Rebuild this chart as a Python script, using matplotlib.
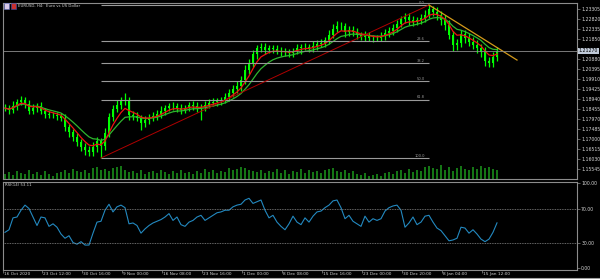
import numpy as np
import pandas as pd
import matplotlib
matplotlib.use("Agg")
import matplotlib.pyplot as plt
from matplotlib.transforms import blended_transform_factory
from matplotlib.patches import Rectangle
from matplotlib.lines import Line2D

# EURUSD H4, one entry per ~3 H4 bars
closes = [1.1850, 1.1841, 1.1860, 1.1880, 1.1889, 1.1870, 1.1836, 1.1850, 1.1860, 1.1836, 1.1821, 1.1817,
          1.1817, 1.1812, 1.1802, 1.1758, 1.1734, 1.1710, 1.1686, 1.1661, 1.1647, 1.1637, 1.1661, 1.1690,
          1.1666, 1.1729, 1.1807, 1.1846, 1.1865, 1.1884, 1.1889, 1.1817, 1.1812, 1.1802, 1.1778, 1.1792,
          1.1802, 1.1812, 1.1821, 1.1836, 1.1850, 1.1860, 1.1860, 1.1850, 1.1841, 1.1850, 1.1865, 1.1860,
          1.1850, 1.1855, 1.1865, 1.1875, 1.1880, 1.1884, 1.1889, 1.1904, 1.1923, 1.1943, 1.1957, 1.1986,
          1.2035, 1.2064, 1.2112, 1.2141, 1.2146, 1.2132, 1.2141, 1.2137, 1.2127, 1.2122, 1.2122, 1.2117,
          1.2127, 1.2141, 1.2146, 1.2146, 1.2141, 1.2151, 1.2161, 1.2166, 1.2180, 1.2204, 1.2234, 1.2248,
          1.2248, 1.2219, 1.2229, 1.2219, 1.2204, 1.2195, 1.2204, 1.2190, 1.2190, 1.2190, 1.2200, 1.2214,
          1.2224, 1.2238, 1.2258, 1.2282, 1.2292, 1.2277, 1.2268, 1.2277, 1.2287, 1.2302, 1.2331, 1.2316,
          1.2300, 1.2277, 1.2253, 1.2204, 1.2156, 1.2166, 1.2209, 1.2190, 1.2171, 1.2156, 1.2141, 1.2122,
          1.2078, 1.2069, 1.2098, 1.2127]

# wick lengths in pips above / below the body
wick_up = [18, 15, 22, 16, 20, 14, 17, 21, 15, 18, 14, 17, 15, 13, 16, 20, 17, 15, 19, 16, 21, 17, 24, 20,
           17, 25, 20, 18, 23, 19, 34, 15, 18, 17, 15, 20, 17, 18, 20, 22, 17, 15, 18, 17, 20, 17, 15, 18,
           18, 17, 20, 17, 18, 15, 17, 20, 22, 18, 24, 20, 25, 22, 20, 17, 18, 20, 17, 15, 18, 17, 20, 17,
           15, 18, 17, 20, 17, 22, 18, 20, 17, 23, 22, 25, 20, 17, 18, 17, 20, 15, 18, 17, 13, 15, 17, 18,
           20, 22, 20, 17, 18, 20, 22, 17, 20, 23, 19, 16, 22, 20, 23, 25, 20, 18, 22, 20, 23, 25, 22, 20,
           23, 20, 22, 18]
wick_dn = [16, 19, 15, 18, 16, 20, 17, 15, 18, 16, 20, 15, 17, 18, 16, 20, 22, 18, 20, 17, 23, 20, 18, 22,
           58, 20, 17, 18, 15, 17, 20, 23, 18, 17, 35, 18, 17, 15, 20, 17, 18, 15, 17, 20, 18, 17, 15, 18,
           17, 60, 18, 15, 17, 20, 17, 15, 18, 17, 20, 22, 18, 20, 17, 23, 20, 18, 17, 20, 15, 18, 17, 20,
           18, 17, 28, 15, 20, 17, 18, 17, 20, 18, 15, 17, 20, 23, 18, 17, 20, 15, 18, 17, 20, 15, 17, 18,
           17, 20, 18, 17, 20, 22, 18, 17, 20, 18, 17, 20, 23, 22, 25, 20, 28, 22, 20, 23, 22, 20, 25, 23,
           22, 20, 18, 20]

volume = [5, 7, 4, 8, 6, 5, 9, 5, 7, 4, 8, 5, 3, 6, 7, 9, 6, 10, 8, 7, 9, 6, 11, 12,
          9, 10, 8, 11, 12, 13, 9, 7, 8, 6, 9, 5, 7, 8, 6, 9, 7, 5, 8, 6, 9, 6, 7, 5,
          8, 6, 10, 7, 9, 6, 8, 7, 11, 9, 10, 12, 11, 9, 8, 7, 9, 6, 8, 7, 10, 6, 9, 5,
          8, 7, 10, 6, 9, 7, 8, 6, 9, 10, 11, 8, 7, 9, 6, 8, 5, 4, 6, 3, 4, 5, 3, 6,
          7, 5, 8, 9, 6, 10, 7, 9, 8, 12, 13, 11, 10, 14, 9, 12, 8, 11, 13, 10, 9, 12, 10, 13,
          11, 12, 10, 9]

rsi = [42, 45, 59, 60, 68, 74, 70, 60, 50, 60, 59, 49, 52, 48, 40, 35, 38, 30, 28, 31, 27, 27, 41, 54,
       55, 68, 75, 66, 72, 74, 71, 52, 53, 50, 41, 46, 50, 53, 55, 57, 60, 64, 56, 60, 51, 49, 54, 56,
       60, 62, 56, 59, 62, 65, 66, 68, 68, 72, 74, 75, 80, 82, 76, 78, 80, 68, 59, 62, 54, 49, 45, 52,
       61, 54, 51, 59, 54, 61, 66, 67, 71, 74, 79, 80, 71, 58, 62, 55, 52, 49, 61, 54, 58, 56, 58, 67,
       71, 73, 74, 68, 48, 53, 60, 51, 54, 61, 62, 54, 47, 44, 38, 32, 33, 35, 48, 47, 41, 45, 40, 34,
       31, 34, 42, 53.11]

fib_levels = [0.0, 23.6, 38.2, 50.0, 61.8, 100.0]
resist_bars = [106, 128]
resist_prices = [1.2350, 1.2083]

price_ticks = [1.15545, 1.16030, 1.16515, 1.17000, 1.17485, 1.17970, 1.18455, 1.18940, 1.19425,
               1.19910, 1.20395, 1.20880, 1.21365, 1.21850, 1.22335, 1.22820, 1.23305]
rsi_ticks = [0, 30, 70, 100]
date_labels = ["16 Oct 2020", "23 Oct 12:00", "30 Oct 16:00", "9 Nov 00:00", "16 Nov 08:00",
               "23 Nov 16:00", "1 Dec 00:00", "8 Dec 08:00", "15 Dec 16:00", "23 Dec 00:00",
               "30 Dec 20:00", "8 Jan 04:00", "15 Jan 12:00"]

n = len(closes)
x = np.arange(n)
close = np.array(closes)
open_ = np.r_[close[0], close[:-1]]
high = np.maximum(open_, close) + np.array(wick_up) / 1e4
low = np.minimum(open_, close) - np.array(wick_dn) / 1e4
ma_fast = pd.Series(close).ewm(span=5).mean()
ma_slow = pd.Series(close).ewm(span=10).mean()

W, H = 600, 279
fig = plt.figure(figsize=(W / 100, H / 100), dpi=100, facecolor="black")


def rect(l, t, r, b):
    return [l / W, 1 - b / H, (r - l) / W, (b - t) / H]


GRID = "#8c8c8c"
TXT = "#d4d4d4"
XMAX = 143

# volume underneath
axv = fig.add_axes(rect(3, 3, 577, 179), zorder=0)
axv.set_facecolor("black")
axv.bar(x, volume, width=0.6, color="#157515", linewidth=0)
axv.set_xlim(-0.5, XMAX)
axv.set_ylim(0, max(volume) * 13)
axv.axis("off")

ax = fig.add_axes(rect(3, 3, 577, 179), zorder=1)
ax.set_facecolor("none")
ax.set_xlim(-0.5, XMAX)
ax.set_ylim(1.15061, 1.23597)

ax.vlines(x, low, high, color="#00ff00", lw=0.9)
body = np.maximum(np.abs(close - open_), 0.00015)
ax.bar(x, body, bottom=np.minimum(open_, close), width=0.5, color="#00ff00", linewidth=0)
ax.plot(x, ma_slow, color="#2fb52f", lw=0.9)
ax.plot(x, ma_fast, color="#ee1111", lw=0.9)

# fibonacci from swing low to swing high
i0, i1 = int(np.argmin(low)), int(np.argmax(high))
lo, hi = low[i0], high[i1]
for r in fib_levels:
    p = hi - r / 100 * (hi - lo)
    ax.hlines(p, i0, i1, color="#9a9a9a", lw=0.8)
    ax.text(i1 - 1, p + 0.0002, f"{r:.1f}", ha="right", va="bottom", fontsize=2.6, color="#9a9a9a")
ax.plot([i0, i1], [lo, hi], color="#b00000", lw=0.7)
ax.plot(resist_bars, resist_prices, color="#d49a1a", lw=0.9)

ax.axhline(close[-1], color=GRID, lw=0.6)
tb = blended_transform_factory(ax.transAxes, ax.transData)
ax.text(1.003, close[-1], f"{close[-1]:.5f}", transform=tb, fontsize=3.3, va="center", ha="left",
        color="black", zorder=5, clip_on=False,
        bbox=dict(boxstyle="square,pad=0.2", fc="#c0cad8", ec="none"))

ax.yaxis.tick_right()
ax.set_yticks(price_ticks)
ax.set_yticklabels(["" if abs(v - close[-1]) < 0.002 else f"{v:.5f}" for v in price_ticks])
ax.tick_params(axis="y", color=GRID, labelcolor=TXT, labelsize=3.3, length=2, width=0.5, pad=1)
ax.set_xticks([])
for s in ax.spines.values():
    s.set_color(GRID)
    s.set_linewidth(0.8)

fig.text(18 / W, 1 - 6 / H, "EURUSD, H4:  Euro vs US Dollar", fontsize=2.8, color=TXT, va="center")
fig.patches.append(Rectangle((4 / W, 1 - 9 / H), 5 / W, 6 / H, transform=fig.transFigure,
                             fc="#d8c8e8", ec="#6070c0", lw=0.4))
fig.patches.append(Rectangle((11 / W, 1 - 9 / H), 5 / W, 6 / H, transform=fig.transFigure,
                             fc="#c83030", ec="#3050b0", lw=0.4))

# RSI pane
ar = fig.add_axes(rect(3, 182, 577, 270))
ar.set_facecolor("black")
ar.set_xlim(-0.5, XMAX)
ar.set_ylim(-2.35, 101.2)
ar.plot(x, rsi, color="#2389c0", lw=0.8)
for lv in (30, 70):
    ar.axhline(lv, color="#8a8a8a", lw=0.6, ls=(0, (1, 1)))
ar.yaxis.tick_right()
ar.set_yticks(rsi_ticks)
ar.set_yticklabels([f"{v:.2f}" for v in rsi_ticks])
ar.tick_params(axis="y", color=GRID, labelcolor=TXT, labelsize=3.3, length=2, width=0.5, pad=1)
ar.text(0.003, 0.985, f"RSI(14) {rsi[-1]:.2f}", transform=ar.transAxes, fontsize=2.8, color=TXT,
        va="top", ha="left")
for s in ar.spines.values():
    s.set_color(GRID)
    s.set_linewidth(0.8)

tick_pos = np.r_[-0.5, 9.25 + 10 * np.arange(len(date_labels) - 1)]
ar.set_xticks(tick_pos)
ar.tick_params(axis="x", color=GRID, length=2.5, width=0.5, labelbottom=False)
tx = blended_transform_factory(ar.transData, ar.transAxes)
for pos, lab in zip(tick_pos, date_labels):
    ar.text(pos + 0.35, -0.02, lab, transform=tx, ha="left", va="top", fontsize=3.1, color=TXT,
            clip_on=False)

fig.add_artist(Line2D([0, 1], [1 - 278 / H, 1 - 278 / H], transform=fig.transFigure, color="#a0a0a0", lw=0.8))

fig.savefig("out.png", dpi=100, facecolor="black")
